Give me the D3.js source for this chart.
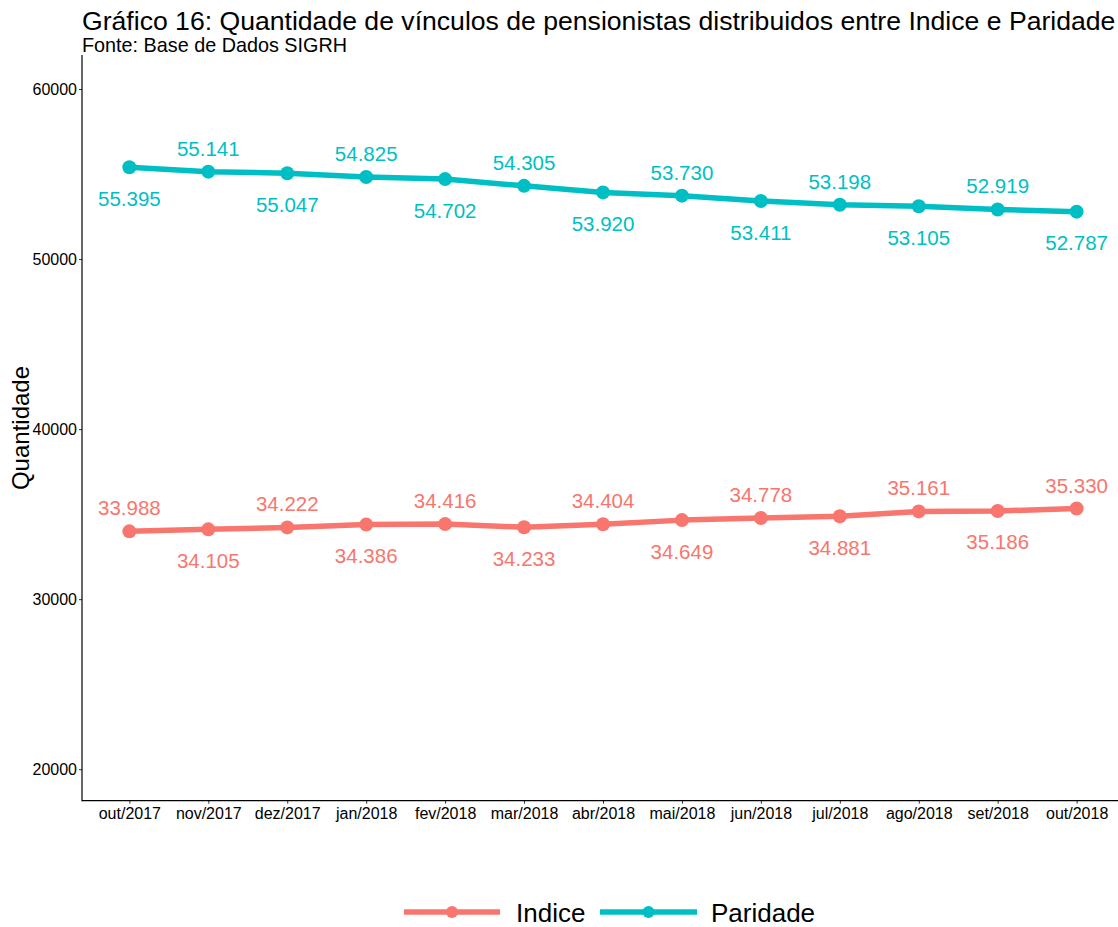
<!DOCTYPE html>
<html><head><meta charset="utf-8">
<script src="https://cdn.jsdelivr.net/npm/d3@7"></script>
<style>body{margin:0;background:#fff}svg{display:block}text{font-family:"Liberation Sans",Arial,sans-serif}</style>
</head><body>
<script>
const months = ["out/2017","nov/2017","dez/2017","jan/2018","fev/2018","mar/2018","abr/2018","mai/2018","jun/2018","jul/2018","ago/2018","set/2018","out/2018"];
const indice = [33988,34105,34222,34386,34416,34233,34404,34649,34778,34881,35161,35186,35330];
const paridade = [55395,55141,55047,54825,54702,54305,53920,53730,53411,53198,53105,52919,52787];
const yTicks = [20000,30000,40000,50000,60000];
const seriesNames = ["Indice","Paridade"];
const colors = ["#F8766D","#00BFC4"];

(function(){
const W=1118,H=927;
const svg=d3.select("body").append("svg").attr("width",W).attr("height",H);
const pL=82, pR=1124, pT=55, pB=800.7;
const x=d3.scalePoint().domain(months).range([pL,pR]).padding(0.6);
const y=d3.scaleLinear().domain([18150,62000]).range([pB,pT]);

svg.append("text").attr("x",82).attr("y",30).attr("font-size",26.6).attr("fill","#000")
 .text("Gráfico 16: Quantidade de vínculos de pensionistas distribuidos entre Indice e Paridade");
svg.append("text").attr("x",82).attr("y",52).attr("font-size",19.8).attr("fill","#000")
 .text("Fonte: Base de Dados SIGRH");

const ya=svg.append("g").attr("transform",`translate(${pL},0)`)
 .call(d3.axisLeft(y).tickValues(yTicks).tickSize(3).tickPadding(2).tickFormat(d3.format("d")));
ya.select(".domain").remove();
ya.selectAll("text").attr("font-size",16).attr("fill","#000").style("font-family","Liberation Sans, Arial, sans-serif");
ya.selectAll("line").attr("stroke","#333");
const xa=svg.append("g").attr("transform",`translate(0,${pB})`)
 .call(d3.axisBottom(x).tickSize(3).tickPadding(4));
xa.select(".domain").remove();
xa.selectAll("text").attr("font-size",16).attr("fill","#000").style("font-family","Liberation Sans, Arial, sans-serif");
xa.selectAll("line").attr("stroke","#333");
svg.append("line").attr("x1",pL).attr("x2",pL).attr("y1",pT).attr("y2",pB+0.5).attr("stroke","#000").attr("stroke-width",1.2);
svg.append("line").attr("x1",pL).attr("x2",W).attr("y1",pB).attr("y2",pB).attr("stroke","#000").attr("stroke-width",1.2);

svg.append("text").attr("transform",`translate(29,428) rotate(-90)`).attr("text-anchor","middle")
 .attr("font-size",24).attr("fill","#000").text("Quantidade");

const fmt=v=>d3.format(",")(v).replace(/,/g,".");
const data=[indice,paridade];
const line=d3.line().x((d,i)=>x(months[i])).y(d=>y(d));
data.forEach((vals,s)=>{
  svg.append("path").datum(vals).attr("d",line).attr("fill","none").attr("stroke",colors[s]).attr("stroke-width",5.5).attr("stroke-linejoin","round");
  svg.selectAll(null).data(vals).enter().append("circle").attr("cx",(d,i)=>x(months[i])).attr("cy",d=>y(d)).attr("r",7).attr("fill",colors[s]);
  svg.selectAll(null).data(vals).enter().append("text")
   .attr("x",(d,i)=>x(months[i])).attr("y",(d,i)=>{
      const above = s===0 ? (i%2===0) : (i%2===1);
      return y(d)+(above?-16:38.5);
   })
   .attr("text-anchor","middle").attr("font-size",20.5).attr("fill",colors[s]).text(d=>fmt(d));
});

const leg=[{x1:404,x2:500,tx:516},{x1:600,x2:697,tx:711}];
seriesNames.forEach((n,s)=>{
  const L=leg[s];
  svg.append("line").attr("x1",L.x1).attr("x2",L.x2).attr("y1",912).attr("y2",912).attr("stroke",colors[s]).attr("stroke-width",5.5);
  svg.append("circle").attr("cx",(L.x1+L.x2)/2).attr("cy",912).attr("r",6).attr("fill",colors[s]);
  svg.append("text").attr("x",L.tx).attr("y",922).attr("font-size",26).attr("fill","#000").text(n);
});
})();
</script>
</body></html>
